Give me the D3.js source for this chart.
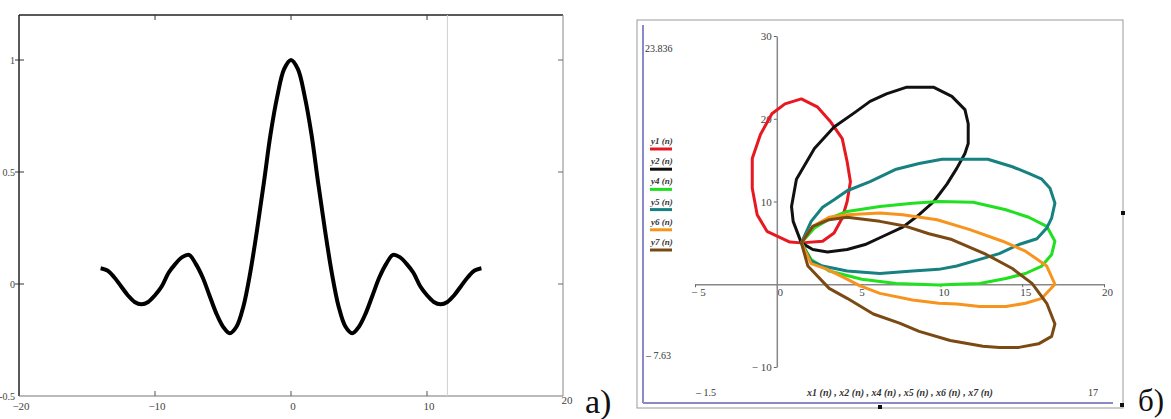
<!DOCTYPE html>
<html>
<head>
<meta charset="utf-8">
<script src="https://cdn.jsdelivr.net/npm/d3@7"></script>
<style>
  body { margin: 0; background: #fff; }
  svg { display: block; }
  text { font-family: "Liberation Serif", "DejaVu Serif", serif; }
</style>
</head>
<body>
<svg id="chart" width="1171" height="419"></svg>
<script>
// === Panel a) : sin(x)/x ===
const curveX = [-14, -13.5, -13, -12.5, -12, -11.5, -11, -10.5, -10, -9.5, -9, -8.5, -8, -7.5, -7,
  -6.5, -6, -5.5, -5, -4.5, -4, -3.5, -3, -2.5, -2, -1.5, -1, -0.5, 0,
  0.5, 1, 1.5, 2, 2.5, 3, 3.5, 4, 4.5, 5, 5.5, 6, 6.5, 7, 7.5, 8, 8.5, 9, 9.5, 10,
  10.5, 11, 11.5, 12, 12.5, 13, 13.5, 14];
const curveY = [0.07, 0.06, 0.03, -0.01, -0.05, -0.08, -0.09, -0.08, -0.05, -0.01, 0.05, 0.09, 0.12, 0.13, 0.09,
  0.03, -0.05, -0.13, -0.19, -0.22, -0.19, -0.10, 0.05, 0.24, 0.45, 0.67, 0.84, 0.96, 1.00,
  0.96, 0.84, 0.67, 0.45, 0.24, 0.05, -0.10, -0.19, -0.22, -0.19, -0.13, -0.05, 0.03, 0.09, 0.13, 0.12, 0.09, 0.05, -0.01, -0.05,
  -0.08, -0.09, -0.08, -0.05, -0.01, 0.03, 0.06, 0.07];
const leftXTicks = [-20, -10, 0, 10, 20];
const leftYTicks = [1, 0.5, 0, -0.5];
const leftYLabels = ["1", "0.5", "0", "-0.5"];
const cursorX = 11.5;

// === Panel б) : closed loops (x, y) ===
const loopY1 = [[1.5,5.0],[0.8,5.1],[-0.6,6.4],[-1.2,8.4],[-1.5,11.6],[-1.5,15.2],[-1.0,18.1],[-0.3,20.6],[0.5,21.8],[1.5,22.4],
  [2.5,21.4],[3.3,19.6],[4.0,17.6],[4.3,14.8],[4.5,12.4],[4.3,10.0],[4.0,8.0],[3.5,6.2],[2.8,5.2]];
const loopY2 = [[1.5,5.0],[1.0,7.6],[0.9,9.4],[1.2,12.7],[2.3,16.4],[3.5,19.0],[4.8,20.8],[5.7,22.1],[6.7,23.0],[7.9,23.8],
  [9.6,23.8],[10.7,22.7],[11.5,21.1],[11.7,19.4],[11.7,17.0],[11.5,15.8],[11.0,14.0],[10.4,12.1],[9.6,10.0],[8.7,8.4],
  [7.7,6.9],[6.5,5.8],[5.4,4.8],[4.3,4.2],[3.1,3.9],[2.2,4.2]];
const loopY4 = [[1.5,5.0],[2.3,6.8],[3.4,8.1],[4.3,8.8],[6.3,9.4],[8.3,9.8],[9.9,10.0],[12.0,9.9],[14.0,9.0],[15.4,8.1],
  [16.5,7.0],[17.0,5.2],[16.8,3.6],[16.2,2.2],[15.2,1.3],[14.0,0.7],[12.4,0.1],[11.0,0.0],[9.9,-0.1],[7.3,0.1],
  [5.2,0.6],[3.2,1.6],[2.1,3.0]];
const loopY5 = [[1.5,5.0],[2.1,7.6],[2.8,9.3],[3.5,10.2],[4.3,11.3],[5.7,12.4],[7.3,13.9],[8.7,14.6],[10.1,15.1],[12.9,15.1],
  [14.4,14.2],[15.4,13.4],[16.2,12.7],[16.7,11.6],[17.0,9.8],[16.8,8.0],[16.5,6.8],[15.9,5.5],[14.8,4.8],[13.6,3.7],
  [12.4,3.0],[11.0,2.2],[9.9,1.8],[8.3,1.6],[6.3,1.3],[4.3,1.6],[2.8,2.2],[2.1,2.8]];
const loopY6 = [[1.5,5.0],[2.2,7.0],[3.2,8.1],[4.3,8.4],[6.3,8.6],[7.7,8.4],[9.8,7.8],[11.8,6.6],[13.8,5.2],[15.2,4.0],
  [16.5,2.2],[17.0,0.0],[16.2,-1.7],[15.2,-2.3],[14.0,-2.7],[12.4,-2.7],[11.0,-2.4],[9.9,-2.3],[8.3,-1.9],[6.3,-1.1],
  [5.1,-0.2],[4.2,0.7],[3.1,1.8],[2.1,2.5]];
const loopY7 = [[1.5,5.0],[2.2,7.0],[3.2,7.8],[4.3,8.1],[6.3,7.6],[7.9,7.0],[9.3,6.1],[10.7,5.4],[12.8,3.6],[14.4,1.9],
  [15.6,0.1],[16.5,-2.3],[17.0,-4.8],[16.8,-6.3],[16.0,-7.2],[14.8,-7.63],[13.6,-7.63],[12.6,-7.5],[10.6,-6.8],[8.7,-5.7],
  [7.5,-4.7],[5.9,-3.6],[4.3,-1.7],[3.2,-0.5],[1.9,2.2]];

const loops = [loopY1, loopY2, loopY4, loopY5, loopY6, loopY7];
const loopNames = ["y1", "y2", "y4", "y5", "y6", "y7"];
const loopColors = ["#e81820", "#111111", "#20e020", "#178080", "#f7941d", "#7b4a14"];
const rightXTicks = [-5, 0, 5, 10, 15, 20];
const rightYTicks = [-10, 10, 20, 30];

const svg = d3.select("#chart");

// ================= Panel a) =================
const xA = d3.scaleLinear().domain([-20, 20]).range([19, 563]);
const yA = d3.scaleLinear().domain([-0.5, 1]).range([396, 60]);

const gA = svg.append("g");

// ram
gA.append("line").attr("x1", 19).attr("x2", 563).attr("y1", 15).attr("y2", 15).attr("stroke", "#222").attr("stroke-width", 1.5);
gA.append("line").attr("x1", 19).attr("x2", 19).attr("y1", 15).attr("y2", 396).attr("stroke", "#222").attr("stroke-width", 1.5);
gA.append("line").attr("x1", 563).attr("x2", 563).attr("y1", 15).attr("y2", 396).attr("stroke", "#888");
gA.append("line").attr("x1", 19).attr("x2", 563).attr("y1", 396).attr("y2", 396).attr("stroke", "#777");

// cursor-linje
gA.append("line")
  .attr("x1", xA(cursorX)).attr("x2", xA(cursorX))
  .attr("y1", 15).attr("y2", 396)
  .attr("stroke", "#cfcfcf");

// ticks
const innerX = leftXTicks.slice(1, -1);
gA.selectAll(".tick-top").data(innerX).enter().append("line")
  .attr("x1", d => xA(d)).attr("x2", d => xA(d)).attr("y1", 15).attr("y2", 20).attr("stroke", "#333");
gA.selectAll(".tick-bot").data(innerX).enter().append("line")
  .attr("x1", d => xA(d)).attr("x2", d => xA(d)).attr("y1", 391).attr("y2", 396).attr("stroke", "#555");
gA.selectAll(".tick-left").data(leftYTicks.slice(0, 3)).enter().append("line")
  .attr("x1", 15).attr("x2", 24).attr("y1", d => yA(d)).attr("y2", d => yA(d)).attr("stroke", "#333");
gA.selectAll(".tick-right").data(leftYTicks.slice(0, 3)).enter().append("line")
  .attr("x1", 558).attr("x2", 563).attr("y1", d => yA(d)).attr("y2", d => yA(d)).attr("stroke", "#666");

// tick-etiketter
gA.selectAll(".xlab").data(leftXTicks).enter().append("text")
  .attr("x", d => d === 20 ? xA(d) + 4 : xA(d) + 2)
  .attr("y", d => d === 20 ? 404 : 410)
  .attr("text-anchor", "middle")
  .attr("font-size", 11).attr("fill", "#444")
  .text(d => d < 0 ? "\u2212" + Math.abs(d) : d);
gA.selectAll(".ylab").data(leftYTicks).enter().append("text")
  .attr("x", 15).attr("y", d => yA(d) + 4)
  .attr("text-anchor", "end")
  .attr("font-size", 10).attr("fill", "#444")
  .text((d, i) => leftYLabels[i]);

// kurvan
const lineA = d3.line()
  .x((d, i) => xA(curveX[i]))
  .y(d => yA(d))
  .curve(d3.curveCatmullRom);
gA.append("path")
  .datum(curveY)
  .attr("d", lineA)
  .attr("fill", "none")
  .attr("stroke", "#000")
  .attr("stroke-width", 4)
  .attr("stroke-linejoin", "round");

svg.append("text").attr("x", 585).attr("y", 413)
  .attr("font-size", 34).attr("fill", "#111").text("а)");

// ================= Panel б) =================
const xB = d3.scaleLinear().domain([-5, 20]).range([695, 1104]);
const yB = d3.scaleLinear().domain([-10, 30]).range([367, 36]);

const gB = svg.append("g");

// Mathcad-ram
gB.append("rect").attr("x", 637).attr("y", 20).attr("width", 486).attr("height", 388)
  .attr("fill", "none").attr("stroke", "#999");
gB.append("line").attr("x1", 643).attr("x2", 643).attr("y1", 25).attr("y2", 403)
  .attr("stroke", "#8a8ac8").attr("stroke-width", 2);
gB.append("line").attr("x1", 643).attr("x2", 1113).attr("y1", 403).attr("y2", 403)
  .attr("stroke", "#8a8ac8").attr("stroke-width", 2);
[[1121, 211], [878, 405], [1120, 403]].forEach(p => {
  gB.append("rect").attr("x", p[0]).attr("y", p[1]).attr("width", 4).attr("height", 4).attr("fill", "#111");
});

// axlar genom origo
const xAxisB = gB.append("g")
  .attr("transform", `translate(0, ${yB(0)})`)
  .call(d3.axisBottom(xB).tickValues(rightXTicks).tickSize(3).tickSizeOuter(0));
const yAxisB = gB.append("g")
  .attr("transform", `translate(${xB(0)}, 0)`)
  .call(d3.axisLeft(yB).tickValues(rightYTicks).tickSize(3).tickSizeOuter(0));

[xAxisB, yAxisB].forEach(ax => {
  ax.select(".domain").attr("stroke", "#888").attr("stroke-width", 1.5);
  ax.selectAll(".tick line").attr("stroke", "#666");
  ax.selectAll(".tick text")
    .attr("font-family", "Liberation Serif, serif")
    .attr("font-size", 11).attr("fill", "#444");
});
xAxisB.selectAll(".tick text").attr("dx", 3).attr("dy", "0.5em")
  .text(d => d < 0 ? "\u2212 " + Math.abs(d) : d);
yAxisB.selectAll(".tick text").attr("dx", 1)
  .text(d => d < 0 ? "\u2212 " + Math.abs(d) : d);

// slingorna
const lineB = d3.line()
  .x(d => xB(d[0]))
  .y(d => yB(d[1]))
  .curve(d3.curveLinearClosed);
gB.selectAll(".loop").data(loops).enter().append("path")
  .attr("class", "loop")
  .attr("d", lineB)
  .attr("fill", "none")
  .attr("stroke", (d, i) => loopColors[i])
  .attr("stroke-width", 3)
  .attr("stroke-linejoin", "round");

// legend
const legend = gB.selectAll(".leg").data(loopNames).enter().append("g")
  .attr("transform", (d, i) => `translate(650, ${141 + i * 20.2})`);
legend.append("text")
  .attr("x", 1).attr("y", 3)
  .attr("font-size", 9).attr("font-style", "italic").attr("font-weight", "bold").attr("fill", "#333")
  .text(d => d + " (n)");
legend.append("line")
  .attr("x1", 0).attr("x2", 22).attr("y1", 8).attr("y2", 8)
  .attr("stroke", (d, i) => loopColors[i]).attr("stroke-width", 3);

// gränsvärden och axeltext
const limitText = (x, y, t, anchor) => gB.append("text")
  .attr("x", x).attr("y", y).attr("text-anchor", anchor || "start")
  .attr("font-size", 10).attr("fill", "#333").text(t);
limitText(645, 52, "23.836");
limitText(646, 359, "\u2013 7.63");
limitText(696, 396, "\u2013 1.5");
limitText(1088, 396, "17");
gB.append("text")
  .attr("x", 900).attr("y", 396).attr("text-anchor", "middle")
  .attr("font-size", 10).attr("font-style", "italic").attr("font-weight", "bold").attr("fill", "#333")
  .text("x1 (n) , x2 (n) , x4 (n) , x5 (n) , x6 (n) , x7 (n)");

svg.append("text").attr("x", 1138).attr("y", 411)
  .attr("font-size", 31).attr("fill", "#111").text("б)");
</script>
</body>
</html>
